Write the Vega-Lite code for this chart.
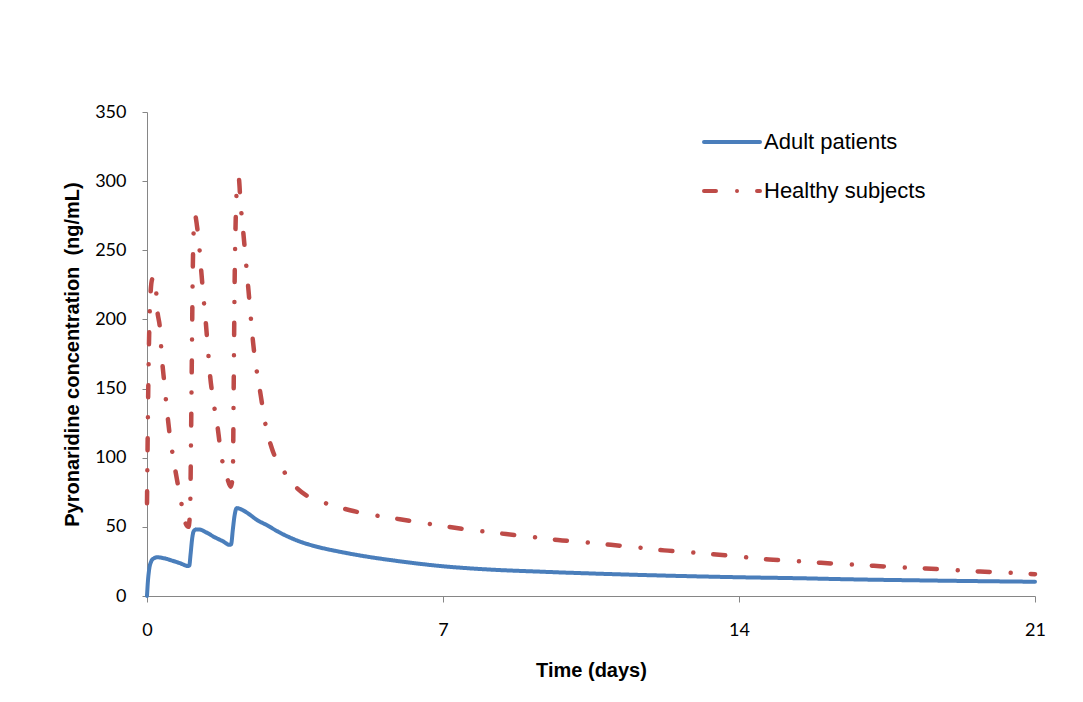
{
  "$schema": "https://vega.github.io/schema/vega-lite/v6.json",
  "width": 888,
  "height": 484,
  "autosize": "none",
  "padding": {"left": 147, "top": 112, "right": 48, "bottom": 106},
  "background": "white",
  "config": {
    "view": {"stroke": null},
    "font": "Liberation Sans"
  },
  "datasets": {
    "adult": [
      {"t": 0, "v": 0}, {"t": 0.02, "v": 10}, {"t": 0.05, "v": 19}, {"t": 0.1, "v": 25}, {"t": 0.15, "v": 27},
      {"t": 0.25, "v": 28}, {"t": 0.4, "v": 27.3}, {"t": 0.6, "v": 25.5}, {"t": 0.8, "v": 23.5}, {"t": 0.97, "v": 21.7},
      {"t": 1.0, "v": 22}, {"t": 1.03, "v": 30}, {"t": 1.07, "v": 42}, {"t": 1.1, "v": 46.5}, {"t": 1.15, "v": 48},
      {"t": 1.25, "v": 48}, {"t": 1.4, "v": 46}, {"t": 1.6, "v": 42.5}, {"t": 1.8, "v": 39.5}, {"t": 1.95, "v": 37},
      {"t": 1.99, "v": 37.5}, {"t": 2.03, "v": 48}, {"t": 2.07, "v": 58}, {"t": 2.12, "v": 63.5}, {"t": 2.2, "v": 63},
      {"t": 2.4, "v": 59.5}, {"t": 2.6, "v": 55}, {"t": 2.83, "v": 51.3}, {"t": 3.1, "v": 46.5}, {"t": 3.62, "v": 39.3},
      {"t": 4.1, "v": 35}, {"t": 4.56, "v": 32}, {"t": 5.0, "v": 29.5}, {"t": 6.0, "v": 25}, {"t": 6.93, "v": 21.7},
      {"t": 8.0, "v": 19.3}, {"t": 9.3, "v": 17.6}, {"t": 11.7, "v": 15.2}, {"t": 14.1, "v": 13.5}, {"t": 15.5, "v": 12.8},
      {"t": 16.4, "v": 12.2}, {"t": 18.5, "v": 11.2}, {"t": 21.0, "v": 10.3}
    ],
    "healthy": [
      {"t": 0, "v": 67}, {"t": 0.03, "v": 150}, {"t": 0.07, "v": 210}, {"t": 0.12, "v": 229}, {"t": 0.17, "v": 231},
      {"t": 0.21, "v": 225}, {"t": 0.23, "v": 212}, {"t": 0.31, "v": 192}, {"t": 0.35, "v": 173}, {"t": 0.41, "v": 154},
      {"t": 0.47, "v": 135}, {"t": 0.54, "v": 116}, {"t": 0.62, "v": 100}, {"t": 0.74, "v": 79}, {"t": 0.86, "v": 60},
      {"t": 0.92, "v": 52}, {"t": 0.98, "v": 50}, {"t": 1.02, "v": 62}, {"t": 1.04, "v": 110}, {"t": 1.06, "v": 170},
      {"t": 1.08, "v": 230}, {"t": 1.11, "v": 268}, {"t": 1.14, "v": 275}, {"t": 1.18, "v": 268}, {"t": 1.23, "v": 255},
      {"t": 1.28, "v": 236}, {"t": 1.33, "v": 218}, {"t": 1.39, "v": 198}, {"t": 1.44, "v": 179}, {"t": 1.49, "v": 160},
      {"t": 1.57, "v": 141}, {"t": 1.67, "v": 122}, {"t": 1.75, "v": 103}, {"t": 1.9, "v": 85}, {"t": 1.98, "v": 79},
      {"t": 2.03, "v": 88}, {"t": 2.05, "v": 150}, {"t": 2.07, "v": 220}, {"t": 2.1, "v": 275}, {"t": 2.14, "v": 300},
      {"t": 2.17, "v": 302}, {"t": 2.21, "v": 285}, {"t": 2.28, "v": 262}, {"t": 2.4, "v": 221}, {"t": 2.51, "v": 183},
      {"t": 2.69, "v": 145}, {"t": 2.79, "v": 126}, {"t": 2.95, "v": 107}, {"t": 3.22, "v": 91}, {"t": 3.5, "v": 79.5},
      {"t": 3.78, "v": 72.5}, {"t": 4.19, "v": 67.5}, {"t": 4.8, "v": 62}, {"t": 5.39, "v": 58.3}, {"t": 5.98, "v": 55.5},
      {"t": 6.64, "v": 52.3}, {"t": 7.24, "v": 49.5}, {"t": 7.87, "v": 47}, {"t": 8.49, "v": 44.8}, {"t": 9.12, "v": 42.7},
      {"t": 9.72, "v": 40.5}, {"t": 10.36, "v": 38.8}, {"t": 10.97, "v": 37}, {"t": 11.6, "v": 35.2}, {"t": 12.23, "v": 33},
      {"t": 12.84, "v": 31.6}, {"t": 13.46, "v": 30}, {"t": 14.09, "v": 28.2}, {"t": 14.71, "v": 26.4}, {"t": 15.33, "v": 25.3},
      {"t": 15.94, "v": 24}, {"t": 16.58, "v": 22.9}, {"t": 17.19, "v": 21.8}, {"t": 17.83, "v": 20.7}, {"t": 18.42, "v": 19.9},
      {"t": 19.06, "v": 18.8}, {"t": 19.7, "v": 17.7}, {"t": 20.33, "v": 16.9}, {"t": 21, "v": 15.8}
    ]
  },
  "layer": [
    {
      "data": {"name": "adult"},
      "transform": [{"calculate": "'Adult patients'", "as": "series"}],
      "mark": {"type": "line", "strokeWidth": 4, "strokeCap": "round", "strokeJoin": "round", "interpolate": "monotone"},
      "encoding": {
        "x": {"field": "t", "type": "quantitative"},
        "y": {"field": "v", "type": "quantitative"},
        "color": {"field": "series", "type": "nominal"},
        "strokeDash": {"field": "series", "type": "nominal"}
      }
    },
    {
      "data": {"name": "healthy"},
      "transform": [{"calculate": "'Healthy subjects'", "as": "series"}],
      "mark": {"type": "line", "strokeWidth": 4.5, "strokeCap": "round", "strokeJoin": "round", "interpolate": "monotone"},
      "encoding": {
        "x": {"field": "t", "type": "quantitative"},
        "y": {"field": "v", "type": "quantitative"},
        "color": {"field": "series", "type": "nominal"},
        "strokeDash": {"field": "series", "type": "nominal"}
      }
    }
  ],
  "encoding": {
    "x": {
      "field": "t", "type": "quantitative",
      "scale": {"domain": [0, 21], "nice": false, "zero": false},
      "axis": {
        "title": "Time (days)",
        "values": [0, 7, 14, 21],
        "grid": false,
        "labelFlush": false,
        "domainColor": "#868686", "domainWidth": 1,
        "tickColor": "#868686", "tickSize": 6, "tickWidth": 1,
        "labelFont": "Lato", "labelFontSize": 18, "labelColor": "#000000", "labelPadding": 19,
        "titleFont": "Liberation Sans", "titleFontSize": 20, "titleFontWeight": "bold", "titleColor": "#000000",
        "titleX": 444, "titleY": 80, "titleBaseline": "alphabetic", "titleAlign": "center"
      }
    },
    "y": {
      "field": "v", "type": "quantitative",
      "scale": {"domain": [0, 350], "nice": false},
      "axis": {
        "title": "Pyronaridine concentration\u00a0 (ng/mL)",
        "values": [0, 50, 100, 150, 200, 250, 300, 350],
        "grid": false,
        "labelFlush": false,
        "domainColor": "#868686", "domainWidth": 1,
        "tickColor": "#868686", "tickSize": 5, "tickWidth": 1,
        "labelFont": "Lato", "labelFontSize": 18, "labelColor": "#000000", "labelPadding": 16,
        "titleFont": "Liberation Sans", "titleFontSize": 20, "titleFontWeight": "bold", "titleColor": "#000000",
        "titleX": -69, "titleY": 242, "titleBaseline": "alphabetic", "titleAlign": "center", "titleAngle": 270
      }
    },
    "color": {
      "field": "series", "type": "nominal",
      "scale": {"domain": ["Adult patients", "Healthy subjects"], "range": ["#4A7EBB", "#BE4B48"]},
      "legend": {
        "title": null,
        "orient": "none",
        "legendX": 555,
        "legendY": 0,
        "padding": 0,
        "symbolType": "stroke",
        "symbolSize": 3136,
        "symbolStrokeWidth": 4,
        "labelFont": "Liberation Sans",
        "labelFontSize": 22,
        "labelColor": "#000000",
        "labelOffset": 2,
        "labelLimit": 400,
        "rowPadding": 8,
        "encode": {"symbols": {"update": {"strokeCap": {"value": "round"}}}}
      }
    },
    "strokeDash": {
      "field": "series", "type": "nominal",
      "scale": {"domain": ["Adult patients", "Healthy subjects"], "range": [[1, 0], [12, 21, 0.01, 20]]},
      "legend": {
        "title": null,
        "orient": "none",
        "legendX": 555,
        "legendY": 0,
        "padding": 0,
        "symbolType": "stroke",
        "symbolSize": 3136,
        "symbolStrokeWidth": 4,
        "labelFont": "Liberation Sans",
        "labelFontSize": 22,
        "labelColor": "#000000",
        "labelOffset": 2,
        "labelLimit": 400,
        "rowPadding": 8,
        "encode": {"symbols": {"update": {"strokeCap": {"value": "round"}}}}
      }
    }
  }
}
